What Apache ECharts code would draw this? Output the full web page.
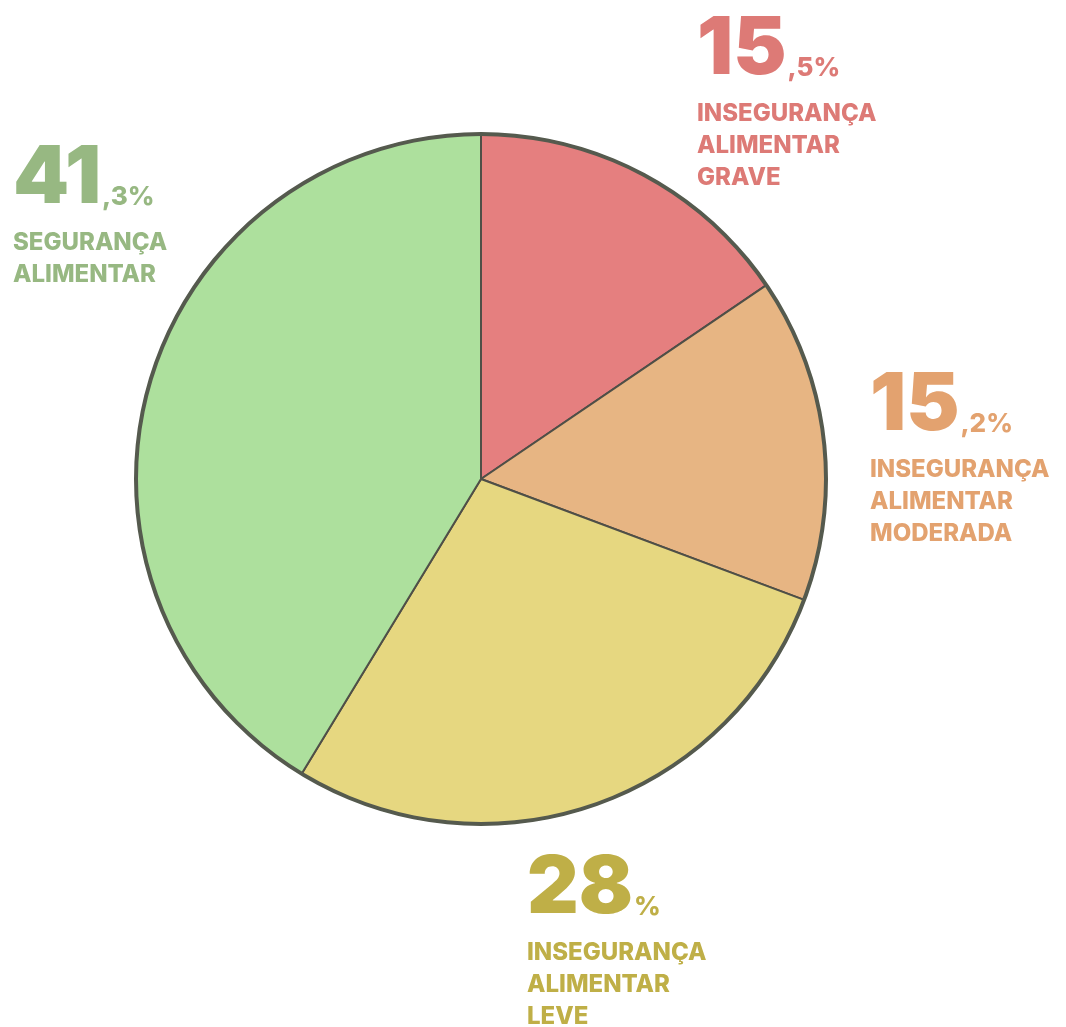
<!DOCTYPE html>
<html><head><meta charset="utf-8">
<script src="https://cdn.jsdelivr.net/npm/echarts@6/dist/echarts.min.js"></script>
<style>html,body{margin:0;padding:0;background:#fff}#c{width:1066px;height:1027px}</style>
</head><body><div id="c"></div>
<script>
// Data
var categories = ['INSEGURANÇA\nALIMENTAR\nGRAVE', 'INSEGURANÇA\nALIMENTAR\nMODERADA', 'INSEGURANÇA\nALIMENTAR\nLEVE', 'SEGURANÇA\nALIMENTAR'];
var values = [15.5, 15.2, 28, 41.3];
var sliceColors = ['#E57F7F', '#E7B583', '#E6D780', '#ADE09D'];
var labelColors = ['#DD7A76', '#E3A26F', '#BFAF47', '#97B882'];
// label anchor positions (layout only)
var labelPos = [[697, 50], [870, 406], [527, 889], [13, 179]];

var chart = echarts.init(document.getElementById('c'));
function splitVal(v) {
  var s = String(v);
  var p = s.split('.');
  return { a: p[0], b: (p[1] ? ',' + p[1] : '') + '%' };
}
var graphics = [];
values.forEach(function (v, i) {
  var sv = splitVal(v);
  var pos = labelPos[i];
  graphics.push({
    type: 'text', x: pos[0], y: pos[1],
    style: {
      text: '{a|' + sv.a + '}{b|' + sv.b + '}',
      textVerticalAlign: 'middle',
      rich: {
        a: { font: '900 80px Inter', fill: labelColors[i], verticalAlign: 'bottom' },
        b: { font: '800 26px Inter', fill: labelColors[i], verticalAlign: 'bottom', padding: [0, 0, 9, 1] }
      }
    }
  });
  graphics.push({
    type: 'text', x: pos[0], y: pos[1] + 48,
    style: {
      text: categories[i], font: '800 24px Inter', fill: labelColors[i],
      lineHeight: 32, textVerticalAlign: 'top'
    }
  });
});
var total = values.reduce(function (s, x) { return s + x; }, 0);
chart.setOption({
  animation: false,
  graphic: graphics,
  series: [{
    type: 'pie', center: [481, 479], radius: [0, 345], startAngle: 90, clockwise: true,
    silent: true, label: { show: false }, labelLine: { show: false },
    itemStyle: { borderColor: '#4f4f47', borderWidth: 2 },
    data: values.map(function (v, i) { return { value: v, name: categories[i], itemStyle: { color: sliceColors[i] } }; })
  }, {
    type: 'pie', center: [481, 479], radius: [343, 347], silent: true,
    label: { show: false }, labelLine: { show: false },
    itemStyle: { color: '#555a4e', borderWidth: 0 },
    data: [{ value: total, name: 'outline' }]
  }]
});
</script></body></html>
